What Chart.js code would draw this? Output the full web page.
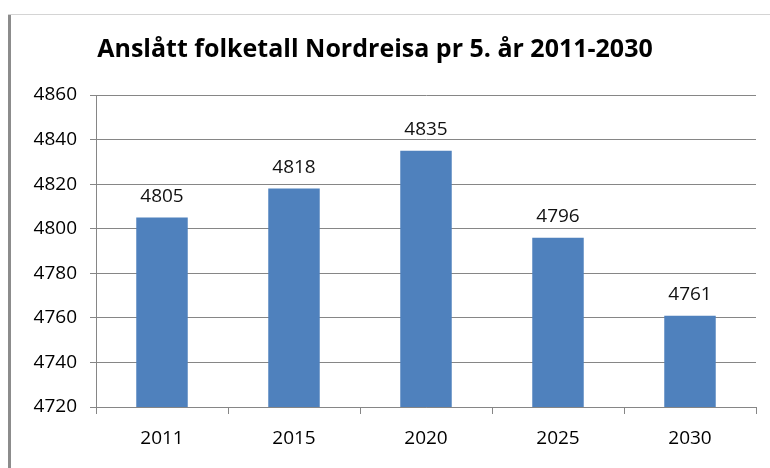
<!DOCTYPE html>
<html>
<head>
<meta charset="utf-8">
<script src="https://cdn.jsdelivr.net/npm/chart.js@4.4.0/dist/chart.umd.min.js"></script>
<style>
  html, body { margin: 0; padding: 0; background: #fff; }
  #wrap { position: relative; width: 770px; height: 468px; }
  #leftline { position: absolute; left: 8px; top: 14px; width: 3px; height: 454px; background: #8c8c8c; }
  #topline { position: absolute; left: 8px; top: 14px; width: 762px; height: 1px; background: #d4d4d4; }
  canvas { position: absolute; left: 0; top: 0; }
</style>
</head>
<body>
<div id="wrap">
  <canvas id="myChart" width="770" height="468"></canvas>
  <div id="leftline"></div>
  <div id="topline"></div>
</div>
<script>
const title = 'Anslått folketall Nordreisa pr 5. år 2011-2030';
const years = ['2011', '2015', '2020', '2025', '2030'];
const folketall = [4805, 4818, 4835, 4796, 4761];
const yMin = 4720;
const yMax = 4860;
const yStep = 20;

const fontFace = '"Open Sans", "DejaVu Sans", sans-serif';

// title drawn by hand so it can sit where the original has it
const titlePlugin = {
  id: 'titleText',
  afterDraw(chart) {
    const c = chart.ctx;
    c.save();
    c.font = 'bold 25px ' + fontFace;
    c.fillStyle = '#000';
    c.textAlign = 'center';
    c.textBaseline = 'middle';
    c.fillText(title, 375, 50);
    c.restore();
  }
};

// value labels above the bars
const valueLabels = {
  id: 'valueLabels',
  afterDatasetsDraw(chart) {
    const c = chart.ctx;
    const meta = chart.getDatasetMeta(0);
    c.save();
    c.font = '19px ' + fontFace;
    c.fillStyle = '#111';
    c.textAlign = 'center';
    c.textBaseline = 'middle';
    meta.data.forEach(function(bar, i) {
      c.fillText(String(folketall[i]), bar.x, bar.y - 21);
    });
    c.restore();
  }
};

const ctx = document.getElementById('myChart');
const myChart = new Chart(ctx, {
  type: 'bar',
  data: {
    labels: years,
    datasets: [{
      data: folketall,
      backgroundColor: '#4f81bd',
      borderWidth: 0,
      barPercentage: 0.39,
      categoryPercentage: 1
    }]
  },
  options: {
    responsive: false,
    animation: false,
    layout: { padding: { top: 95, right: 14, bottom: 0, left: 0 } },
    plugins: {
      legend: { display: false },
      title: { display: false },
      tooltip: { enabled: false }
    },
    scales: {
      y: {
        min: yMin,
        max: yMax,
        ticks: {
          stepSize: yStep,
          padding: 13,
          color: '#000',
          font: { family: fontFace, size: 19 },
          callback: function(v) { return String(v); }
        },
        grid: { color: '#868686', tickLength: 6, tickColor: '#868686' },
        border: { color: '#868686' },
        afterFit(scale) { scale.width = 96; }
      },
      x: {
        offset: true,
        ticks: {
          padding: 13,
          color: '#000',
          font: { family: fontFace, size: 19 }
        },
        grid: {
          offset: true,
          drawOnChartArea: false,
          tickLength: 7,
          tickColor: '#868686'
        },
        border: { color: '#868686' },
        afterFit(scale) { scale.height = 61; }
      }
    }
  },
  plugins: [titlePlugin, valueLabels]
});
</script>
</body>
</html>
